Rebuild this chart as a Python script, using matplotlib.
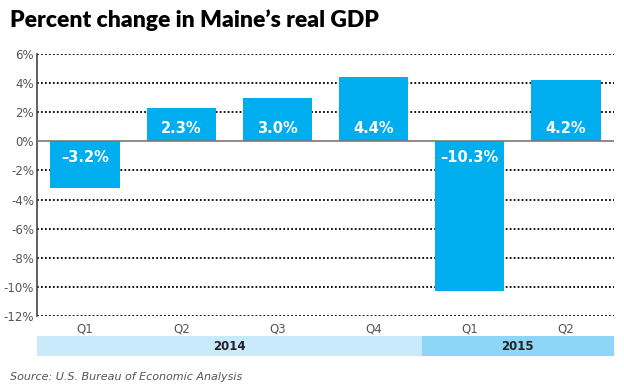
import matplotlib.pyplot as plt

quarters = ['Q1', 'Q2', 'Q3', 'Q4', 'Q1', 'Q2']
changes = [-3.2, 2.3, 3.0, 4.4, -10.3, 4.2]
labels = ['\u20133.2%', '2.3%', '3.0%', '4.4%', '\u201310.3%', '4.2%']
years = ['2014', '2015']
year_counts = [4, 2]

plt.rcParams['font.family'] = ['DejaVu Sans']

fig = plt.figure(figsize=(6.24, 3.9), dpi=100)
ax = fig.add_axes([37 / 624, 1 - 316 / 390, 577 / 624, 262 / 390])

x = range(len(changes))
ax.bar(x, changes, width=0.72, color='#00aeef', zorder=3)

for i, (v, lab) in enumerate(zip(changes, labels)):
    ypos = 0.9 if v > 0 else -1.1
    ax.text(i, ypos, lab, ha='center', va='center', color='white',
            fontsize=10.5, fontweight='bold', zorder=4)

ax.set_xlim(-0.5, len(changes) - 0.5)
ax.set_ylim(-12, 6)
ticks = list(range(-12, 7, 2))
ax.set_yticks(ticks)
ax.set_yticklabels(['%d%%' % t for t in ticks])
for t in ticks:
    if t != 0:
        ax.axhline(t, color='black', linestyle=(0, (1, 1.2)), linewidth=1.3, zorder=1)
ax.axhline(0, color='#777777', linewidth=1.2, zorder=5)

ax.set_xticks(list(x))
ax.set_xticklabels(quarters)
ax.tick_params(axis='both', length=0, colors='#555555', labelsize=8.5)
ax.tick_params(axis='x', pad=5)
ax.tick_params(axis='y', pad=2)
for s in ['top', 'right', 'bottom']:
    ax.spines[s].set_visible(False)
ax.spines['left'].set_color('#444444')
ax.spines['left'].set_linewidth(1.2)

# year band
band = fig.add_axes([37 / 624, 1 - 356 / 390, 577 / 624, 20 / 390])
band.set_xlim(-0.5, len(changes) - 0.5)
band.set_ylim(0, 1)
band.axis('off')
band_colors = ['#c8eafb', '#8ed6f7']
start = -0.5
for yr, n, c in zip(years, year_counts, band_colors):
    band.axvspan(start, start + n, color=c, lw=0)
    band.text(start + n / 2, 0.5, yr, ha='center', va='center',
              fontsize=8.5, fontweight='bold', color='#222222')
    start += n

fig.text(10 / 624, 1 - 20 / 390, 'Percent change in Maine\u2019s real GDP',
         fontsize=16.5, fontweight='heavy', family='Lato', color='black',
         va='center', ha='left')
fig.text(10 / 624, 1 - 377 / 390, 'Source: U.S. Bureau of Economic Analysis',
         fontsize=8, style='italic', color='#555555', va='center', ha='left')

fig.savefig('out.png', dpi=100)
